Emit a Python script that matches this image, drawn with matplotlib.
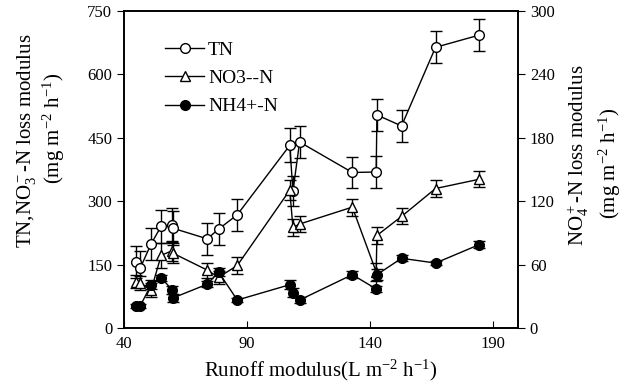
import matplotlib
matplotlib.use("Agg")
import matplotlib.pyplot as plt
from matplotlib.lines import Line2D

plt.rcParams['font.family'] = ['Liberation Serif', 'DejaVu Serif']
plt.rcParams['mathtext.fontset'] = 'custom'
plt.rcParams['mathtext.rm'] = 'Liberation Serif'
plt.rcParams['mathtext.it'] = 'Liberation Serif:italic'

# runoff modulus (L m-2 h-1)
runoff = [45.0, 46.6, 51.0, 55.1, 59.6, 59.9, 73.8, 78.4, 86.0, 107.3, 108.6,
          111.3, 132.7, 142.4, 142.7, 152.7, 166.5, 184.3]
tn = [156, 142, 199, 241, 244, 236, 211, 234, 268, 432, 324, 440, 368, 369,
      504, 478, 664, 693]
tn_err = [38, 40, 38, 39, 40, 40, 38, 38, 38, 40, 36, 38, 37, 38, 38, 38, 38, 38]
no3 = [110, 106, 90, 172, 183, 177, 137, 120, 148, 326, 238, 246, 286, 133,
       219, 264, 330, 352]
no3_err = [16, 16, 16, 30, 24, 24, 18, 16, 20, 24, 20, 20, 20, 22, 20, 19, 20, 19]
# NH4 on right axis
nh4 = [21, 21, 41, 47.5, 36, 28.5, 41.5, 53, 26.5, 41, 33.5, 26.5, 50.5, 37,
       50.5, 66, 61.5, 79]
nh4_err = [2, 2, 4, 3, 4, 4, 3, 4, 2, 4, 4, 3, 3, 3, 5, 3, 2, 3]

fig = plt.figure(figsize=(6.36, 3.91), dpi=100)
ax = fig.add_axes([0.195, 0.161, 0.6195, 0.811])
ax2 = ax.twinx()

eb = dict(color='black', ecolor='black', elinewidth=1, capsize=4, capthick=1,
          linewidth=1)
ax.errorbar(runoff, tn, yerr=tn_err, marker='o', ms=7, mfc='white', mec='black', **eb)
ax.errorbar(runoff, no3, yerr=no3_err, marker='^', ms=7, mfc='white', mec='black', **eb)
ax2.errorbar(runoff, nh4, yerr=nh4_err, marker='o', ms=7, mfc='black', mec='black', **eb)

ax.set_xlim(40, 200)
ax.set_ylim(0, 750)
ax2.set_ylim(0, 300)
ax.set_xticks([40, 90, 140, 190])
ax.set_yticks([0, 150, 300, 450, 600, 750])
ax2.set_yticks([0, 60, 120, 180, 240, 300])

ax.tick_params(axis='x', direction='in', labelsize=12, length=5, pad=6)
ax.tick_params(axis='y', direction='out', labelsize=12, length=5)
ax2.tick_params(axis='y', direction='out', labelsize=12, length=5)

ax.set_xlabel('Runoff modulus(L m$^{-2}$ h$^{-1}$)', fontsize=15)

# two-line axis titles, placed like the original
fig.text(27 / 636, 1 - 141 / 391, 'TN,NO$_3^-$-N loss modulus', fontsize=15,
         rotation=90, ha='center', va='center')
fig.text(54 / 636, 1 - 128 / 391, '(mg m$^{-2}$ h$^{-1}$)', fontsize=15,
         rotation=90, ha='center', va='center')
fig.text(578 / 636, 1 - 155 / 391, 'NO$_4^+$-N loss modulus', fontsize=15,
         rotation=90, ha='center', va='center')
fig.text(610 / 636, 1 - 163 / 391, '(mg m$^{-2}$ h$^{-1}$)', fontsize=15,
         rotation=90, ha='center', va='center')

for a in (ax, ax2):
    for s in a.spines.values():
        s.set_linewidth(1.2)

handles = [Line2D([], [], color='black', lw=1, marker='o', ms=7, mfc='white'),
           Line2D([], [], color='black', lw=1, marker='^', ms=7, mfc='white'),
           Line2D([], [], color='black', lw=1, marker='o', ms=7, mfc='black')]
ax.legend(handles, ['TN', 'NO3--N', 'NH4+-N'], loc='upper left',
          bbox_to_anchor=(0.06, 0.96), frameon=False, fontsize=14,
          handlelength=2.0, labelspacing=0.55, handletextpad=0.2)

fig.savefig('out.png', dpi=100)
